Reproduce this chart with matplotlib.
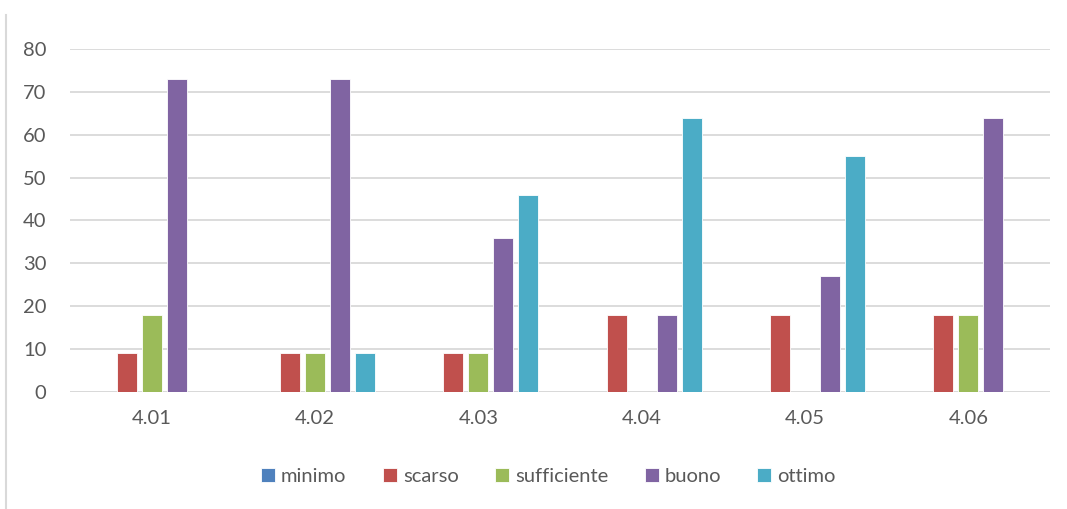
import numpy as np
import matplotlib
matplotlib.use("Agg")
import matplotlib.pyplot as plt
from matplotlib.lines import Line2D

# data
categories = ["4.01", "4.02", "4.03", "4.04", "4.05", "4.06"]
series = ["minimo", "scarso", "sufficiente", "buono", "ottimo"]
minimo = [0, 0, 0, 0, 0, 0]
scarso = [9, 9, 9, 18, 18, 18]
sufficiente = [18, 9, 9, 0, 0, 18]
buono = [73, 73, 36, 18, 27, 64]
ottimo = [0, 9, 46, 64, 55, 0]
yticks = [0, 10, 20, 30, 40, 50, 60, 70, 80]

colors = ["#4F81BD", "#C0504D", "#9BBB59", "#8064A2", "#4BACC6"]
values = [minimo, scarso, sufficiente, buono, ottimo]

plt.rcParams['font.family'] = ['Lato', 'DejaVu Sans']
textcol = "#595959"

fig = plt.figure(figsize=(10.67, 5.09), dpi=100)
ax = fig.add_axes([0.0656, 0.2299, 0.9184, 0.6738])

x = np.arange(len(categories))
step = 0.153
width = 0.122
for i, (name, vals) in enumerate(zip(series, values)):
    ax.bar(x + (i - 2) * step, vals, width, color=colors[i], label=name,
           edgecolor="white", linewidth=0.6, zorder=3)

ax.set_xlim(-0.5, len(categories) - 0.5)
ax.set_ylim(0, 80)
ax.set_yticks(yticks)
ax.set_xticks(x)
ax.set_xticklabels(categories)
ax.yaxis.grid(True, color="#D9D9D9", linewidth=1.3, zorder=0)
ax.axhline(0, color="#D9D9D9", linewidth=1.3, zorder=1)
for s in ax.spines.values():
    s.set_visible(False)
ax.tick_params(axis="both", length=0, labelsize=14.5, colors=textcol)
ax.tick_params(axis="y", pad=17)
ax.tick_params(axis="x", pad=13)

leg = ax.legend(loc="center", bbox_to_anchor=(0.514, 0.063), bbox_transform=fig.transFigure,
                ncol=5, frameon=False, fontsize=14.5, handlelength=0.7, handleheight=0.7,
                handletextpad=0.3, columnspacing=1.8)
for t in leg.get_texts():
    t.set_color(textcol)

# chart border remnant on the left
fig.add_artist(Line2D([6 / 1067, 6 / 1067], [0, 1 - 15 / 509], transform=fig.transFigure,
                      color="#D9D9D9", linewidth=1.5))

fig.savefig("out.png", dpi=100)
